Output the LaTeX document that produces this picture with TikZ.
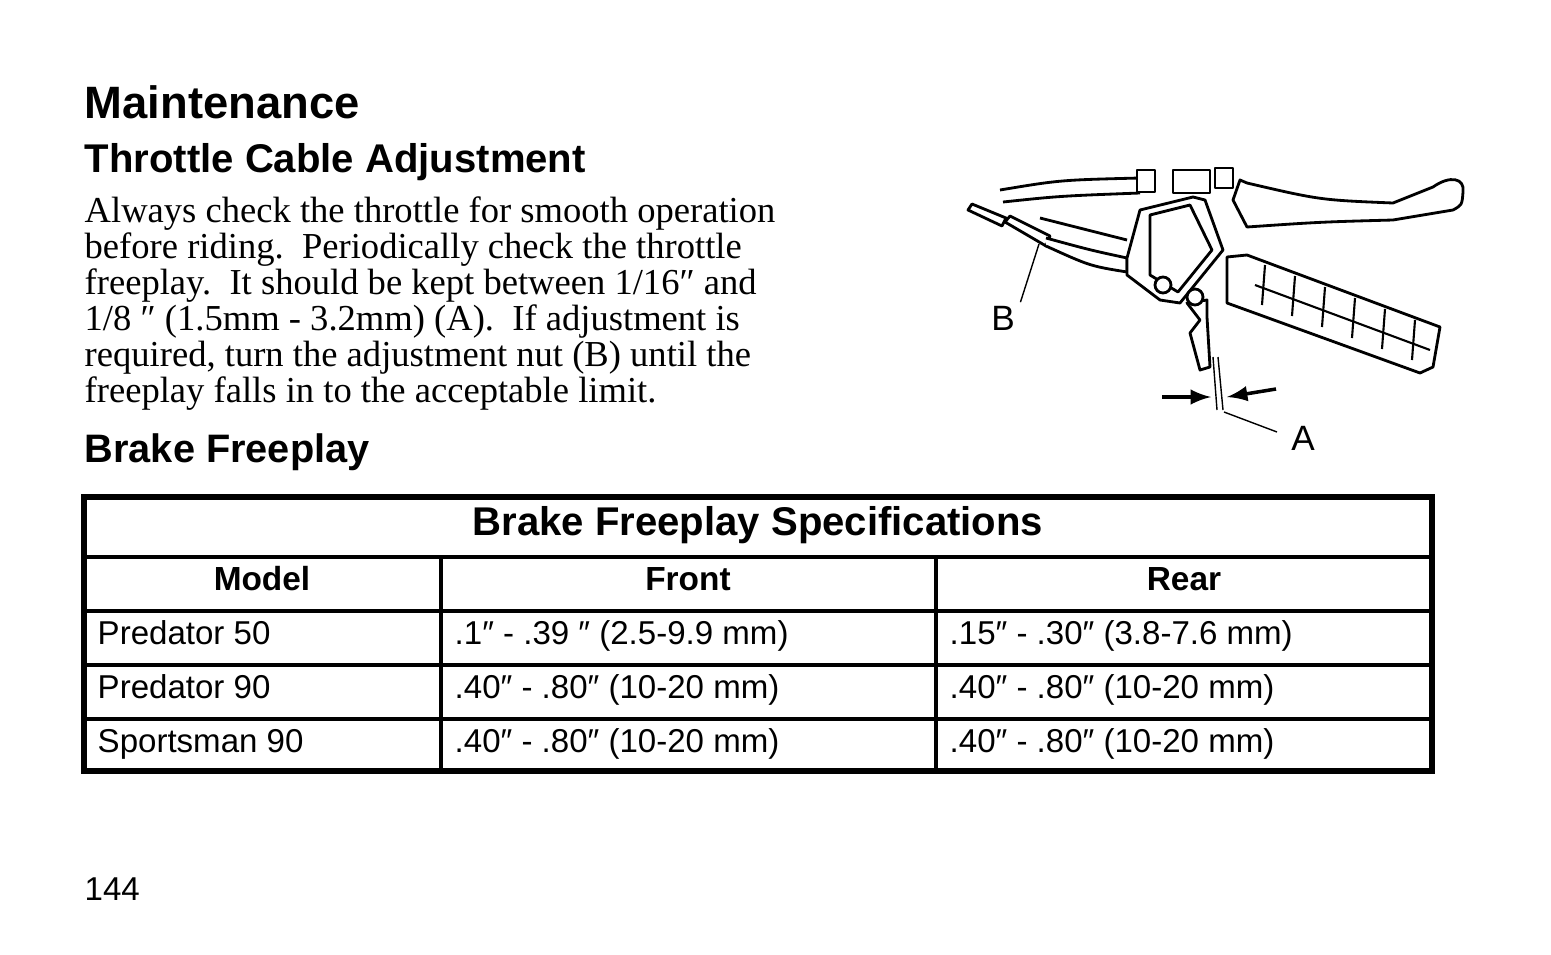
\documentclass[tikz,border=0pt]{standalone}
\usepackage{fontspec}
\setmainfont{Liberation Serif}
\newfontfamily\headfont{Liberation Sans}
\usetikzlibrary{positioning}
\begin{document}
\begin{tikzpicture}[x=0.01cm,y=-0.01cm]
\tikzstyle{head}=[anchor=base west,inner sep=0pt,font=\headfont\bfseries]
\tikzstyle{body}=[anchor=base west,inner sep=0pt,font=\fontsize{10.4}{11}\selectfont]
\tikzstyle{cell}=[anchor=base west,inner sep=0pt,font=\headfont\fontsize{9.4}{10}\selectfont]
\tikzstyle{hcell}=[anchor=base,inner sep=0pt,font=\headfont\bfseries\fontsize{9.5}{10}\selectfont]
\tikzstyle{part}=[draw=black,line width=0.8pt,fill=white,line join=round]
\tikzstyle{arrow}=[line width=1pt,-latex]
\useasboundingbox (0,0) rectangle (1551,954);
% headings and text
\node [head,font=\headfont\bfseries\fontsize{12.9}{14}\selectfont] (title) at (84,118) {Maintenance};
\node [head,font=\headfont\bfseries\fontsize{11.4}{12}\selectfont] (sub1) at (84,172) {Throttle Cable Adjustment};
\node [body] (l1) at (84,222) {Always check the throttle for smooth operation};
\node [body] (l2) at (84,258) {before riding.\ \ Periodically check the throttle};
\node [body] (l3) at (84,294) {freeplay.\ \ It should be kept between 1/16″ and};
\node [body] (l4) at (84,330) {1/8 ″ (1.5mm - 3.2mm) (A).\ \ If adjustment is};
\node [body] (l5) at (84,366) {required, turn the adjustment nut (B) until the};
\node [body] (l6) at (84,402) {freeplay falls in to the acceptable limit.};
\node [head,font=\headfont\bfseries\fontsize{11.3}{12}\selectfont] (sub2) at (84,462) {Brake Freeplay};
% drawing
\draw [part] (1000,190) .. controls (1060,180) .. (1140,178);
\draw [part] (1003,202) .. controls (1060,196) .. (1140,193);
\draw [part] (1137,170) rectangle (1155,192);
\draw [part] (1173,170) rectangle (1210,193);
\draw [part] (1215,168) rectangle (1233,188);
\draw [part] (1247,183) .. controls (1320,200) .. (1393,203) -- (1433,187) .. controls (1450,175) and (1465,178) .. (1463,192) .. controls (1462,205) .. (1453,210) -- (1393,220) .. controls (1320,222) .. (1247,227) -- (1233,200) -- (1240,180) -- cycle;
\draw [part] (968,210) -- (972,204) -- (1006,218) -- (1002,226) -- cycle;
\draw [part] (1005,222) -- (1010,216) -- (1050,236) -- (1046,246) -- cycle;
\draw [part] (1046,238) .. controls (1090,250) .. (1127,258) -- (1127,272) .. controls (1090,266) .. (1046,246);
\draw [part] (1040,218) -- (1127,240);
\draw [part] (1140,210) -- (1193,197) -- (1205,200) -- (1223,250) -- (1180,303) -- (1160,300) -- (1127,275) -- (1127,258) -- cycle;
\draw [part] (1150,215) -- (1190,205) -- (1212,250) -- (1178,292) -- (1150,275) -- cycle;
\draw [part] (1187,303) -- (1207,300) -- (1207,317) -- (1210,367) -- (1200,370) -- (1190,333) -- (1200,320) -- cycle;
\draw [part] (1227,257) -- (1247,255) -- (1440,327) -- (1433,367) -- (1420,373) -- (1227,303) -- cycle;
\foreach \i in {0,...,5}
  \draw [line width=0.6pt] ({1265+\i*30},{265+\i*11}) -- ({1262+\i*30},{305+\i*11});
\draw [line width=0.6pt] (1255,285) -- (1430,350);
\draw [part] (1163,285) circle (8);
\draw [part] (1195,297) circle (8);
\draw (1213,357) -- (1217,410);
\draw (1218,357) -- (1223,410);
\coordinate (gapl) at (1211,397);
\coordinate (gapr) at (1227,397);
\coordinate (arl) at (1162,397);
\coordinate (arr) at (1276,389);
\draw [arrow] (arl) -- (gapl);
\draw [arrow] (arr) -- (gapr);
\node [inner sep=0pt,font=\headfont\fontsize{10}{12}\selectfont] (labA) at (1303,438) {A};
\node [inner sep=0pt,font=\headfont\fontsize{10}{12}\selectfont] (labB) at (1003,318) {B};
\coordinate (tipA) at (1224,412);
\coordinate (tipB) at (1039,244);
\draw (tipA) -- (1277,432);
\draw (labB.north east) ++(5,-3) -- (tipB);
% table
\draw [line width=1.8pt] (84,497) rectangle (1432,771);
\draw [line width=1.2pt] (84,557) -- (1432,557);
\foreach \y in {611,665,719}
  \draw [line width=1.2pt] (84,\y) -- (1432,\y);
\draw [line width=1.4pt] (441,557) -- (441,771);
\draw [line width=1.4pt] (936,557) -- (936,771);
\node [hcell,font=\headfont\bfseries\fontsize{11.4}{12}\selectfont] (ttl) at (758,535) {Brake Freeplay Specifications};
\node [hcell] (hmodel) at (262,590) {Model};
\node [hcell] (hfront) at (688,590) {Front};
\node [hcell] (hrear) at (1184,590) {Rear};
\node [cell] (m1) at (97,644) {Predator 50};
\node [cell] (f1) at (454,644) {.1″ - .39 ″ (2.5-9.9 mm)};
\node [cell] (r1) at (949,644) {.15″ - .30″ (3.8-7.6 mm)};
\node [cell] (m2) at (97,698) {Predator 90};
\node [cell] (f2) at (454,698) {.40″ - .80″ (10-20 mm)};
\node [cell] (r2) at (949,698) {.40″ - .80″ (10-20 mm)};
\node [cell] (m3) at (97,752) {Sportsman 90};
\node [cell] (f3) at (454,752) {.40″ - .80″ (10-20 mm)};
\node [cell] (r3) at (949,752) {.40″ - .80″ (10-20 mm)};
\node [cell] (page) at (84,900) {144};
\end{tikzpicture}
\end{document}
